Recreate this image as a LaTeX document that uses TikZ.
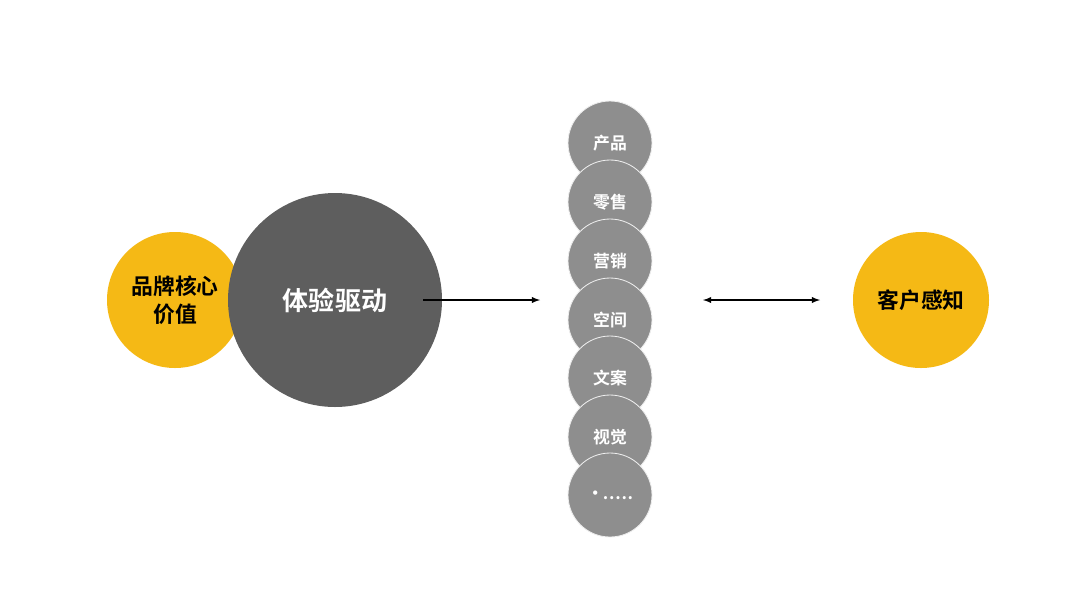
\documentclass[tikz,border=0pt]{standalone}
\usepackage{fontspec}
\newfontfamily\cjk{Noto Sans CJK SC}[BoldFont={Noto Sans CJK SC Bold}]
\definecolor{yel}{HTML}{F5B915}
\definecolor{dark}{HTML}{5E5E5E}
\definecolor{gry}{HTML}{8E8E8E}
\begin{document}
\begin{tikzpicture}[x=0.025cm,y=-0.025cm,
  ybig/.style={circle,fill=yel,minimum size=136*0.025cm,inner sep=0pt,font=\cjk\bfseries\fontsize{15.5}{20}\selectfont,align=center},
  gsmall/.style={circle,fill=gry,draw=white!85!gry,line width=0.6pt,minimum size=84*0.025cm,inner sep=0pt,text=white,font=\cjk\bfseries\fontsize{12}{14}\selectfont}]
\useasboundingbox (0,0) rectangle (1080,608);
\fill[white] (0,0) rectangle (1080,608);
\node[ybig] (core) at (175,300) {品牌核心\\价值};
\node[circle,fill=dark,minimum size=214*0.025cm,inner sep=0pt,text=white,font=\cjk\bfseries\fontsize{18.5}{22}\selectfont] (exp) at (335,300) {体验驱动};
\foreach \t/\y [count=\i] in {产品/143,零售/202,营销/261,空间/320,文案/378,视觉/437}
  \node[gsmall] (g\i) at (610,\y) {\t};
\node[gsmall] (g7) at (610,495) {\textperiodcentered\kern-0.5pt.\kern0.5pt.\kern0.5pt.\kern0.5pt.\kern0.5pt.};
\node[ybig] (cust) at (921,300) {客户感知};
\coordinate (a1) at (423,300); \coordinate (a2) at (540,300);
\coordinate (b1) at (703,300); \coordinate (b2) at (820,300);
\draw[-latex,line width=1pt] (a1) -- (a2);
\draw[latex-latex,line width=1pt] (b1) -- (b2);
\end{tikzpicture}
\end{document}
